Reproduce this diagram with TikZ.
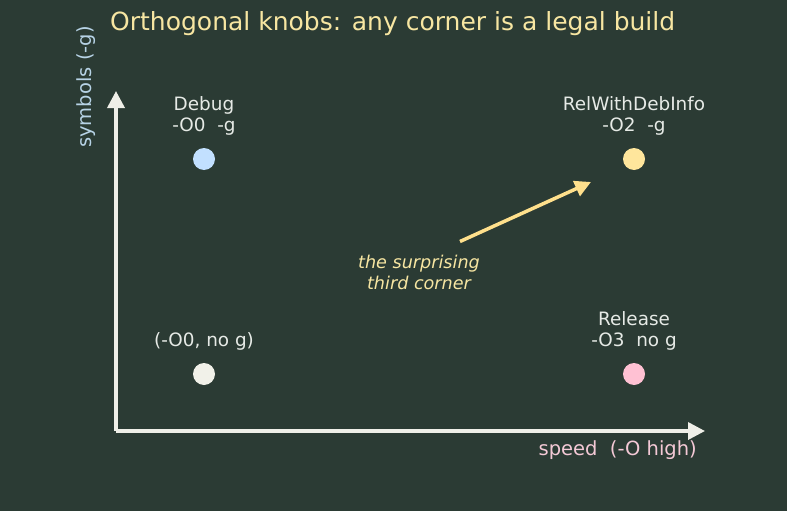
\documentclass[tikz,border=0pt]{standalone}
\usepackage{fontspec}
\setmainfont{DejaVu Sans}
\usetikzlibrary{arrows.meta,positioning,calc}

\definecolor{bgdark}{HTML}{2B3B34}
\definecolor{axiscol}{HTML}{EFEFE8}
\definecolor{titlecol}{HTML}{F7E6A2}
\definecolor{labelcol}{HTML}{E6EAE6}
\definecolor{symcol}{HTML}{B7D3E6}
\definecolor{speedcol}{HTML}{F4C9D6}
\definecolor{debugcol}{HTML}{C2E0FF}
\definecolor{relinfocol}{HTML}{FFE69C}
\definecolor{plaincol}{HTML}{F1F1E9}
\definecolor{releasecol}{HTML}{FFC1D3}
\definecolor{notecol}{HTML}{FFE08C}

\begin{document}
\begin{tikzpicture}[
        x=1pt, y=-1pt,
        >=Triangle,
        corner/.style={
            circle, inner sep=0pt, minimum size=22pt
        },
        cornerlabel/.style={
            text=labelcol, align=center, inner sep=0pt,
            font=\fontsize{18.4}{21}\selectfont
        },
        axislabel/.style={
            inner sep=0pt, font=\fontsize{19.5}{23}\selectfont
        },
        axisline/.style={
            axiscol, line width=3.5pt, -{Triangle[width=17pt,length=17pt]}
        }
    ]
    \path[fill=bgdark] (0,0) rectangle (787,511);

    \node[text=titlecol, anchor=west, inner sep=0pt,
        font=\fontsize{25}{29}\selectfont] (title) at (110,24)
        {Orthogonal knobs: any corner is a legal build};

    % axes
    \coordinate (origin) at (116,431);
    \coordinate (ytip) at (116,91);
    \coordinate (xtip) at (705,431);
    \draw[axisline] (origin) -- (ytip);
    \draw[axisline] (origin) -- (xtip);
    \node[axislabel, text=symcol, rotate=90] (ylab) at (86,87) {symbols (-g)};
    \node[axislabel, text=speedcol, anchor=east] (xlab) at (697,450) {speed\ \ (-O high)};

    % the four corners
    \node[corner, fill=debugcol] (debug) at (204,159) {};
    \node[corner, fill=relinfocol] (relinfo) at (634,159) {};
    \node[corner, fill=plaincol] (plain) at (204,374) {};
    \node[corner, fill=releasecol] (release) at (634,374) {};

    \node[cornerlabel, above=12pt of debug] (debuglab) {Debug\\-O0\ \ -g};
    \node[cornerlabel, above=12pt of relinfo] (relinfolab) {RelWithDebInfo\\-O2\ \ -g};
    \node[cornerlabel, above=12pt of plain] (plainlab) {(-O0, no g)};
    \node[cornerlabel, above=12pt of release] (releaselab) {Release\\-O3\ \ no g};

    % annotation
    \node[text=titlecol, align=center, inner sep=0pt,
        font=\fontsize{17.6}{21}\itshape] (note) at (419,272)
        {the surprising\\third corner};
    \coordinate (notetip) at (591,182);
    \draw[notecol, line width=3.5pt, -{Triangle[width=16pt,length=16pt]}]
        ($(note.north)+(41,-13)$) -- (notetip);
\end{tikzpicture}
\end{document}
